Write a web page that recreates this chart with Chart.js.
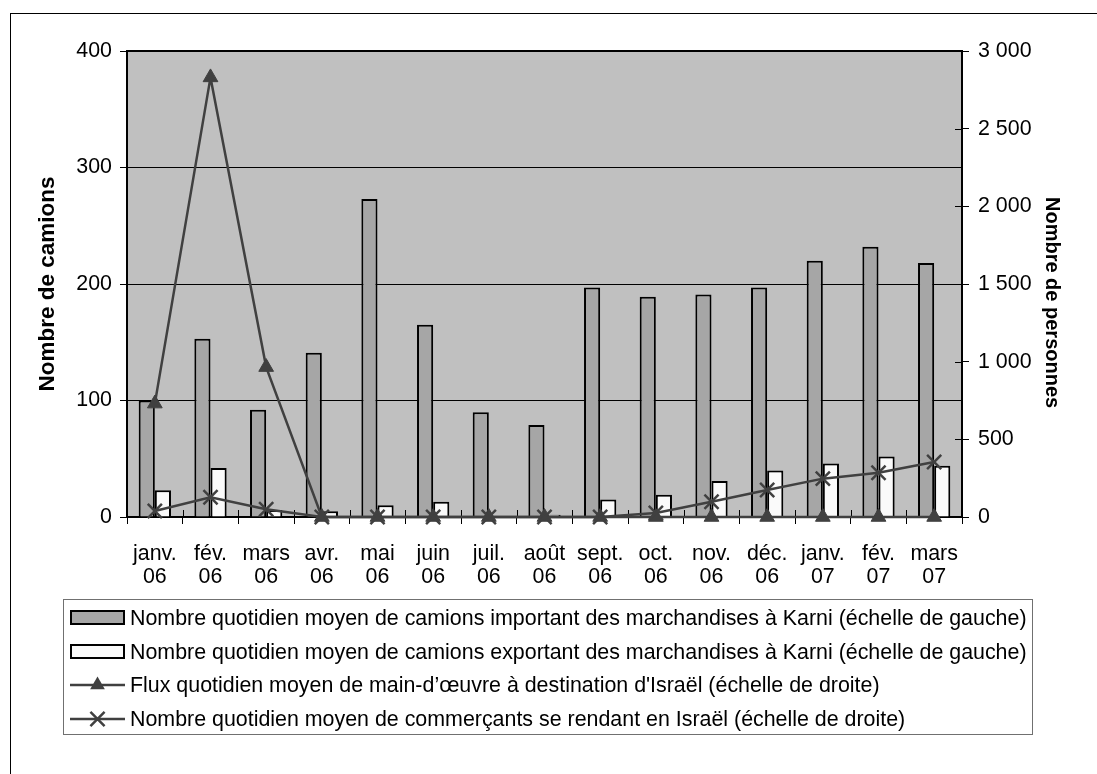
<!DOCTYPE html>
<html>
<head>
<meta charset="utf-8">
<script src="https://cdn.jsdelivr.net/npm/chart.js@4.4.1/dist/chart.umd.min.js"></script>
<style>
  html, body { margin: 0; padding: 0; background: #fff; }
  canvas { display: block; }
</style>
</head>
<body>
<canvas id="c" width="1097" height="774"></canvas>
<script>
// Categories: month / year pairs
const months = ['janv.', 'fév.', 'mars', 'avr.', 'mai', 'juin', 'juil.', 'août', 'sept.', 'oct.', 'nov.', 'déc.', 'janv.', 'fév.', 'mars'];
const years  = ['06', '06', '06', '06', '06', '06', '06', '06', '06', '06', '06', '06', '07', '07', '07'];

// Left scale (trucks per day)
const trucksImport = [100, 153, 92, 141, 273, 165, 90, 79, 197, 189, 191, 197, 220, 232, 218];
const trucksExport = [23, 42, 6, 5, 10, 13, 0, 2, 15, 19, 31, 40, 46, 52, 44];

// Right scale (persons per day)
const workers = [730, 2830, 965, 0, 0, 0, 0, 0, 0, 0, 0, 0, 0, 0, 0];
const traders = [39, 127, 50, 0, 0, 0, 0, 0, 0, 26, 98, 174, 247, 285, 354];

// Tick labels
const leftTicks  = ['0', '100', '200', '300', '400'];
const rightTicks = ['0', '500', '1 000', '1 500', '2 000', '2 500', '3 000'];

const seriesLabels = [
  'Nombre quotidien moyen de camions important des marchandises à Karni (échelle de gauche)',
  'Nombre quotidien moyen de camions exportant des marchandises à Karni (échelle de gauche)',
  'Flux quotidien moyen de main-d\u2019œuvre à destination d\'Israël (échelle de droite)',
  'Nombre quotidien moyen de commerçants se rendant en Israël (échelle de droite)'
];
const leftTitle = 'Nombre de camions';
const rightTitle = 'Nombre de personnes';

const FONT = 'Liberation Sans, Arial, sans-serif';
const TXT = 21.4;
const LINE = '#404040';

const categories = months.map((m, i) => [m, years[i]]);

// Background, outer frame and plot fill
const backdrop = {
  id: 'backdrop',
  beforeDraw(chart) {
    const { ctx, chartArea: a } = chart;
    ctx.save();
    ctx.fillStyle = '#fff';
    ctx.fillRect(0, 0, chart.width, chart.height);
    ctx.strokeStyle = '#000';
    ctx.lineWidth = 1;
    ctx.strokeRect(10.5, 13.5, chart.width + 40, chart.height + 40);
    ctx.fillStyle = '#c0c0c0';
    ctx.fillRect(a.left, a.top, a.right - a.left, a.bottom - a.top);
    ctx.restore();
  },
  beforeDatasetsDraw(chart) {
    const { ctx, chartArea: a, scales } = chart;
    ctx.save();
    ctx.strokeStyle = '#000';
    // top edge of the plot frame
    ctx.lineWidth = 2;
    ctx.beginPath();
    ctx.moveTo(a.left, a.top);
    ctx.lineTo(a.right, a.top);
    ctx.stroke();
    // inner halves of the crossing tick marks (x axis and right axis)
    ctx.lineWidth = 1;
    for (let i = 0; i <= categories.length; i++) {
      const px = Math.round(a.left + (a.right - a.left) * i / categories.length) + 0.5;
      ctx.beginPath();
      ctx.moveTo(px, a.bottom);
      ctx.lineTo(px, a.bottom - 7);
      ctx.stroke();
    }
    const y1 = scales.y1;
    y1.ticks.forEach(t => {
      const py = Math.round(y1.getPixelForValue(t.value)) + 0.5;
      ctx.beginPath();
      ctx.moveTo(a.right, py);
      ctx.lineTo(a.right - 7, py);
      ctx.stroke();
    });
    // right axis title, reading downward
    ctx.fillStyle = '#000';
    ctx.font = 'bold 20px ' + FONT;
    ctx.textAlign = 'left';
    ctx.textBaseline = 'middle';
    ctx.translate(1052, 197);
    ctx.rotate(Math.PI / 2);
    ctx.fillText(rightTitle, 0, 0);
    ctx.restore();
  }
};

function drawMarker(ctx, style, cx, cy, r) {
  ctx.beginPath();
  if (style === 'triangle') {
    ctx.fillStyle = LINE;
    ctx.moveTo(cx, cy - r);
    ctx.lineTo(cx + r * 0.866, cy + r / 2);
    ctx.lineTo(cx - r * 0.866, cy + r / 2);
    ctx.closePath();
    ctx.fill();
  } else {
    const d = r * 0.707;
    ctx.moveTo(cx - d, cy - d); ctx.lineTo(cx + d, cy + d);
    ctx.moveTo(cx + d, cy - d); ctx.lineTo(cx - d, cy + d);
    ctx.stroke();
  }
}

// Boxed legend below the plot
const boxedLegend = {
  id: 'boxedLegend',
  afterDraw(chart) {
    const ctx = chart.ctx;
    ctx.save();
    ctx.strokeStyle = '#707070';
    ctx.lineWidth = 1;
    ctx.strokeRect(63.5, 599.5, 969, 135);
    ctx.font = TXT + 'px ' + FONT;
    ctx.textBaseline = 'middle';
    ctx.textAlign = 'left';
    chart.data.datasets.forEach((ds, i) => {
      const y = Math.round(618 + i * 33.5);
      if (ds.type === 'bar') {
        ctx.fillStyle = ds.backgroundColor;
        ctx.fillRect(71, y - 7, 53, 13);
        ctx.strokeStyle = '#000';
        ctx.lineWidth = 2;
        ctx.strokeRect(71, y - 7, 53, 13);
      } else {
        ctx.strokeStyle = LINE;
        ctx.lineWidth = 2.5;
        ctx.beginPath();
        ctx.moveTo(70, y); ctx.lineTo(125, y);
        ctx.stroke();
        drawMarker(ctx, ds.pointStyle, 97.5, y, ds.pointRadius);
      }
      ctx.fillStyle = '#000';
      ctx.fillText(ds.label, 130, y + 1);
    });
    ctx.restore();
  }
};

new Chart(document.getElementById('c'), {
  data: {
    labels: categories,
    datasets: [
      {
        type: 'bar', label: seriesLabels[0], data: trucksImport, yAxisID: 'y',
        backgroundColor: '#a6a6a6', borderColor: '#000', borderWidth: 2,
        barPercentage: 1, categoryPercentage: 0.58, order: 2
      },
      {
        type: 'bar', label: seriesLabels[1], data: trucksExport, yAxisID: 'y',
        backgroundColor: '#fafafa', borderColor: '#000', borderWidth: 2,
        barPercentage: 1, categoryPercentage: 0.58, order: 2
      },
      {
        type: 'line', label: seriesLabels[2], data: workers, yAxisID: 'y1',
        borderColor: LINE, borderWidth: 2.5, backgroundColor: LINE,
        pointStyle: 'triangle', pointRadius: 8.5, pointBorderWidth: 1,
        pointBackgroundColor: LINE, pointBorderColor: LINE,
        tension: 0, clip: false, order: 1
      },
      {
        type: 'line', label: seriesLabels[3], data: traders, yAxisID: 'y1',
        borderColor: LINE, borderWidth: 2.5, backgroundColor: LINE,
        pointStyle: 'crossRot', pointRadius: 10, pointBorderWidth: 2.5,
        pointBorderColor: LINE,
        tension: 0, clip: false, order: 0
      }
    ]
  },
  options: {
    responsive: false,
    devicePixelRatio: 1,
    animation: false,
    layout: { padding: { top: 51, left: 0, right: 0, bottom: 0 } },
    plugins: { legend: { display: false }, tooltip: { enabled: false } },
    scales: {
      x: {
        type: 'category',
        offset: true,
        grid: { offset: true, drawOnChartArea: false, tickLength: 7, color: '#000', lineWidth: 1 },
        border: { display: true, color: '#000', width: 2 },
        ticks: {
          color: '#000', padding: 18, maxRotation: 0, autoSkip: false,
          font: { family: FONT, size: TXT, lineHeight: 1.1 }
        },
        afterFit(s) { s.height = 257; }
      },
      y: {
        position: 'left',
        min: 0, max: 400,
        grid: { color: '#000', lineWidth: 1, tickLength: 7 },
        border: { display: true, color: '#000', width: 2 },
        ticks: {
          stepSize: 100, color: '#000', padding: 8,
          font: { family: FONT, size: TXT },
          callback: (v) => leftTicks[Math.round(v / 100)]
        },
        title: {
          display: true, text: leftTitle, color: '#000',
          font: { family: FONT, size: 22.5, weight: 'bold', lineHeight: 1.2 },
          padding: { top: 34, bottom: 0 }
        },
        afterFit(s) { s.width = 127; }
      },
      y1: {
        position: 'right',
        min: 0, max: 3000,
        grid: { drawOnChartArea: false, color: '#000', lineWidth: 1, tickLength: 7 },
        border: { display: true, color: '#000', width: 2 },
        ticks: {
          stepSize: 500, color: '#000', padding: 9,
          font: { family: FONT, size: TXT },
          callback: (v) => rightTicks[Math.round(v / 500)]
        },
        afterFit(s) { s.width = 135; }
      }
    }
  },
  plugins: [backdrop, boxedLegend]
});
</script>
</body>
</html>
